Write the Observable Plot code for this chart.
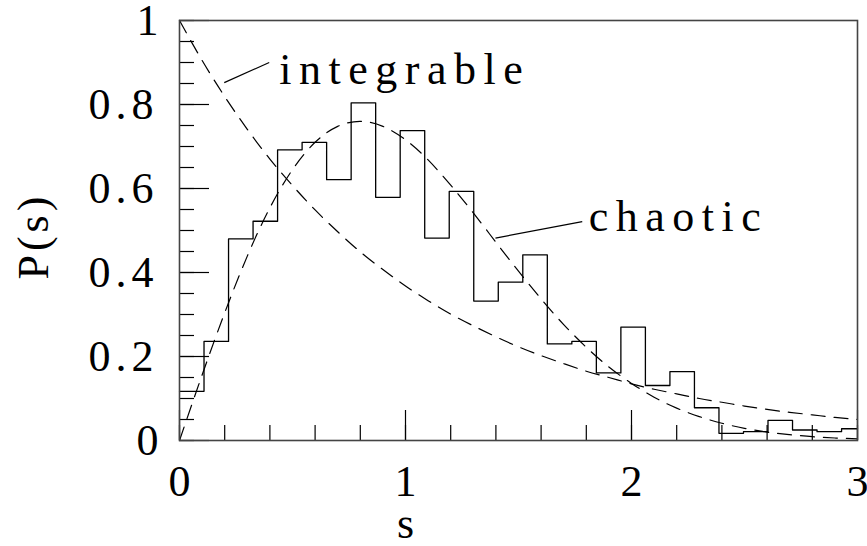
<!DOCTYPE html>
<html>
<head>
<meta charset="utf-8">
<script src="https://cdn.jsdelivr.net/npm/d3@7"></script>
<script src="https://cdn.jsdelivr.net/npm/@observablehq/plot@0.6"></script>
<style>
  html, body { margin: 0; padding: 0; background: #fff; }
  #chart svg, #chart svg text { font-family: "Liberation Serif", "DejaVu Serif", serif !important; }
</style>
</head>
<body>
<div id="chart"></div>
<script>
// Level-spacing histogram: equal-width bins starting at s = 0
const binWidth = 0.1085;
const binHeights = [
  0.117, 0.236, 0.480, 0.522, 0.692, 0.710, 0.621, 0.804, 0.579, 0.738,
  0.482, 0.593, 0.332, 0.377, 0.442, 0.230, 0.236, 0.161, 0.270, 0.131,
  0.164, 0.078, 0.017, 0.021, 0.048, 0.025, 0.021, 0.028
];

// Reference distributions, sampled every 0.1 in s
const curveS = [
  0.0, 0.1, 0.2, 0.3, 0.4, 0.5, 0.6, 0.7, 0.8, 0.9, 1.0,
  1.1, 1.2, 1.3, 1.4, 1.5, 1.6, 1.7, 1.8, 1.9, 2.0,
  2.1, 2.2, 2.3, 2.4, 2.5, 2.6, 2.7, 2.8, 2.9, 3.0
];
const integrableP = [
  1.000, 0.905, 0.819, 0.741, 0.670, 0.607, 0.549, 0.497, 0.449, 0.407, 0.368,
  0.333, 0.301, 0.273, 0.247, 0.223, 0.202, 0.183, 0.165, 0.150, 0.135,
  0.122, 0.111, 0.100, 0.091, 0.082, 0.074, 0.067, 0.061, 0.055, 0.050
];
const chaoticP = [
  0.000, 0.156, 0.304, 0.439, 0.554, 0.645, 0.710, 0.748, 0.760, 0.748, 0.716,
  0.668, 0.608, 0.542, 0.472, 0.403, 0.337, 0.276, 0.222, 0.175, 0.136,
  0.103, 0.077, 0.057, 0.041, 0.029, 0.020, 0.014, 0.009, 0.006, 0.004
];

// Axis ticks
const xMinorTicks = [0, 0.2, 0.4, 0.6, 0.8, 1, 1.2, 1.4, 1.6, 1.8, 2, 2.2, 2.4, 2.6, 2.8, 3];
const xMajorTicks = [0, 1, 2, 3];
const yMinorTicks = [0, 0.05, 0.1, 0.15, 0.2, 0.25, 0.3, 0.35, 0.4, 0.45, 0.5,
                     0.55, 0.6, 0.65, 0.7, 0.75, 0.8, 0.85, 0.9, 0.95, 1];
const yMajorTicks = [0, 0.2, 0.4, 0.6, 0.8, 1];

// Curve labels with leader lines (data coordinates)
const curveLabels = [
  { label: "integrable", x1: 0.198, y1: 0.852, x2: 0.397, y2: 0.900, tx: 0.4415, ty: 0.849 },
  { label: "chaotic",    x1: 1.398, y1: 0.482, x2: 1.782, y2: 0.521, tx: 1.811,  ty: 0.498 }
];

const xMax = 3;
const stepRows = binHeights.map((p, i) => ({ s: i * binWidth, p }));
stepRows.push({ s: Math.min(binHeights.length * binWidth, xMax), p: binHeights[binHeights.length - 1] });

const curveRows = curveS.map((s, i) => ({ s, integrable: integrableP[i], chaotic: chaoticP[i] }));

const chart = Plot.plot({
  width: 867,
  height: 546,
  marginLeft: 179,
  marginRight: 10,
  marginTop: 20,
  marginBottom: 106,
  style: { fontFamily: "'Liberation Serif', serif", fontSize: "44px", background: "#fff", color: "#000", overflow: "visible" },
  x: { domain: [0, xMax] },
  y: { domain: [0, 1] },
  marks: [
    // inward ticks
    Plot.axisX({ ticks: xMinorTicks, tickSize: -15, tickFormat: () => "", label: null, strokeWidth: 1.2 }),
    Plot.axisX({ ticks: xMajorTicks, tickSize: -30, tickFormat: () => "", label: null, strokeWidth: 1.2 }),
    Plot.axisY({ ticks: yMinorTicks, tickSize: -15, tickFormat: () => "", label: null, strokeWidth: 1.2 }),
    Plot.axisY({ ticks: yMajorTicks, tickSize: -30, tickFormat: () => "", label: null, strokeWidth: 1.2 }),
    // tick labels
    Plot.axisX({ ticks: xMajorTicks, tickSize: 0, tickPadding: 24, label: null, tickFormat: d3.format("") }),
    Plot.axisY({ ticks: yMajorTicks, tickSize: 0, tickPadding: 21, label: null, tickFormat: d3.format("") }),
    // axis titles
    Plot.text(["s"], { frameAnchor: "bottom", dx: -113, dy: 83, lineAnchor: "middle" }),
    Plot.text(["P(s)"], { frameAnchor: "left", rotate: -90, dx: -146, dy: 49, lineAnchor: "middle", textAnchor: "start" }),
    // reference curves
    Plot.line(curveRows, { x: "s", y: "integrable", curve: "natural", stroke: "#000", strokeWidth: 1.2, strokeDasharray: "14,9" }),
    Plot.line(curveRows, { x: "s", y: "chaotic", curve: "natural", stroke: "#000", strokeWidth: 1.2, strokeDasharray: "14,9" }),
    // histogram outline
    Plot.line(stepRows, { x: "s", y: "p", curve: "step-after", stroke: "#000", strokeWidth: 1.3 }),
    // labels
    Plot.link(curveLabels, { x1: "x1", y1: "y1", x2: "x2", y2: "y2", stroke: "#000", strokeWidth: 1.2 }),
    Plot.text(curveLabels, { x: "tx", y: "ty", text: "label", textAnchor: "start", lineAnchor: "bottom" }),
    Plot.frame({ stroke: "#444", strokeWidth: 1.6 })
  ]
});

// wide letter spacing, as in the original typesetting
const spacing = new Map([["integrable", "7.5px"], ["chaotic", "7.5px"], ["P(s)", "4px"]]);
yMajorTicks.forEach(t => spacing.set(d3.format("")(t), "5px"));
d3.select(chart).selectAll("text").each(function () {
  const t = this.textContent;
  if (spacing.has(t) && !xMajorTicks.map(String).includes(t)) this.style.letterSpacing = spacing.get(t);
});

document.getElementById("chart").append(chart);
</script>
</body>
</html>
